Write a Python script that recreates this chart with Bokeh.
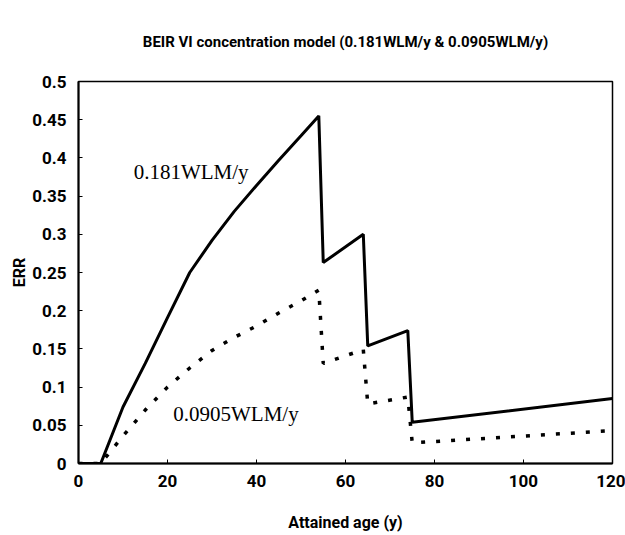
from bokeh.plotting import figure
from bokeh.models import Range1d, FixedTicker, Label
from bokeh.embed import file_html
from bokeh.resources import INLINE

# Attained age (y)
ages = [0, 5, 10, 15, 20, 25, 30, 35, 40, 45, 50, 54, 55, 64, 65, 74, 75, 120]
# ERR, 0.181 WLM/y
err_high = [0, 0, 0.074, 0.131, 0.191, 0.250, 0.292, 0.330, 0.364, 0.397, 0.429, 0.455,
            0.263, 0.300, 0.154, 0.174, 0.054, 0.085]
# ERR, 0.0905 WLM/y
err_low = [0, 0, 0.036, 0.070, 0.100, 0.125, 0.148, 0.165, 0.180, 0.197, 0.213, 0.227,
           0.131, 0.149, 0.078, 0.087, 0.027, 0.043]

x_ticks = [0, 20, 40, 60, 80, 100, 120]
y_ticks = [0, 0.05, 0.1, 0.15, 0.2, 0.25, 0.3, 0.35, 0.4, 0.45, 0.5]
y_tick_labels = ["0", "0.05", "0.1", "0.15", "0.2", "0.25", "0.3", "0.35", "0.4", "0.45", "0.5"]

title_text = "BEIR VI concentration model (0.181WLM/y & 0.0905WLM/y)"
label_high = "0.181WLM/y"
label_low = "0.0905WLM/y"

SANS = "Roboto"

p = figure(width=625, height=535, output_backend="svg", toolbar_location=None,
           x_range=Range1d(0, 120), y_range=Range1d(0, 0.5),
           min_border_left=78, min_border_right=13, min_border_top=81, min_border_bottom=72)

p.title.text = title_text
p.title.text_font = SANS
p.title.text_font_size = "15px"
p.title.text_font_style = "bold"
p.title.text_color = "black"
p.title.align = "center"
p.title.vertical_align = "top"
p.title.offset = -34
p.title.standoff = 58

p.background_fill_color = "white"
p.border_fill_color = "white"
p.outline_line_color = "black"
p.outline_line_width = 1.5
p.xgrid.visible = False
p.ygrid.visible = False

for ax in (p.xaxis, p.yaxis):
    ax.axis_line_color = "black"
    ax.axis_line_width = 2
    ax.major_tick_in = 4
    ax.major_tick_out = 0
    ax.minor_tick_line_color = None
    ax.major_tick_line_color = "black"
    ax.major_label_text_font = SANS
    ax.major_label_text_font_size = "17px"
    ax.major_label_text_font_style = "bold"
    ax.major_label_text_color = "black"
    ax.axis_label_text_font = SANS
    ax.axis_label_text_font_size = "16px"
    ax.axis_label_text_font_style = "bold"
    ax.axis_label_text_color = "black"

p.xaxis.ticker = FixedTicker(ticks=x_ticks)
p.yaxis.ticker = FixedTicker(ticks=y_ticks)
p.yaxis.major_label_overrides = {t: s for t, s in zip(y_ticks, y_tick_labels)}
p.xaxis.major_label_standoff = 11
p.yaxis.major_label_standoff = 12
p.xaxis.axis_label = "Attained age (y)"
p.yaxis.axis_label = "ERR"
p.xaxis.axis_label_standoff = 23
p.yaxis.axis_label_standoff = 0

p.line(ages, err_high, line_color="black", line_width=3)
p.line(ages, err_low, line_color="black", line_width=3.5, line_dash="4 11")

p.add_layout(Label(x=12.4, y=0.381, text=label_high, text_font="Liberation Serif",
                   text_font_size="21px", text_baseline="alphabetic", text_color="black"))
p.add_layout(Label(x=21.3, y=0.065, text=label_low, text_font="Liberation Serif",
                   text_font_size="21px", text_baseline="alphabetic", text_color="black"))

open("out.html", "w").write(file_html(p, INLINE))
